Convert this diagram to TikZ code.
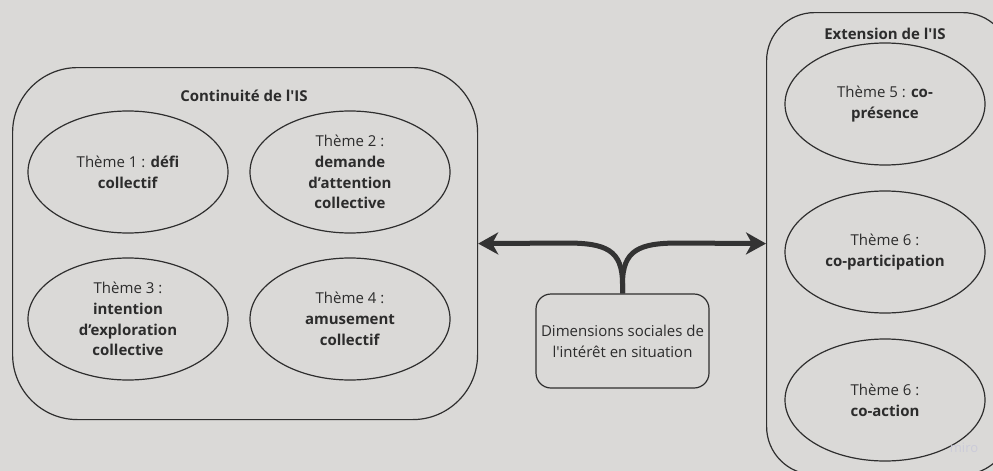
\documentclass[tikz,border=0pt]{standalone}
\usepackage{fontspec}
\newfontfamily\osans{Open Sans}
\usetikzlibrary{arrows.meta,shapes.geometric}
\definecolor{bgc}{HTML}{DAD9D7}
\definecolor{linec}{HTML}{2E2E2E}
\definecolor{txtc}{HTML}{2C2C2C}
\definecolor{arrc}{HTML}{333333}
\definecolor{wmc}{HTML}{CBCBD9}
\tikzset{
  every node/.style={font=\osans\fontsize{15}{20.8}\selectfont, text=txtc},
  bigbox/.style={draw=linec, line width=1.2pt, inner sep=0pt},
  theme/.style={ellipse, draw=linec, line width=1.2pt, minimum width=200pt, minimum height=122pt, inner sep=0pt, align=center},
  dimbox/.style={draw=linec, line width=1.2pt, rounded corners=15pt, minimum width=173pt, minimum height=94pt, align=center, inner sep=0pt},
  titletxt/.style={font=\osans\bfseries\fontsize{15}{20.8}\selectfont},
  arr/.style={draw=arrc, line width=5pt, -{Stealth[length=20pt, width=22pt, inset=6pt]}}
}
\begin{document}
\begin{tikzpicture}[x=1pt, y=-1pt]
\useasboundingbox (0,0) rectangle (993,471);
\clip (0,0) rectangle (993,471);
\fill[bgc] (0,0) rectangle (993,471);
% left big box
\node[bigbox, rounded corners=65pt, minimum width=465pt, minimum height=352pt, anchor=north west] (lbox) at (12,67) {};
\node[titletxt] (ltitle) at (244,96) {Continuité de l'IS};
\node[theme] (t1) at (128,172) {Thème 1 : \textbf{défi}\\\textbf{collectif}};
\node[theme] (t2) at (350,172) {Thème 2 :\\\textbf{demande}\\\textbf{d’attention}\\\textbf{collective}};
\node[theme] (t3) at (128,319) {Thème 3 :\\\textbf{intention}\\\textbf{d’exploration}\\\textbf{collective}};
\node[theme] (t4) at (350,319) {Thème 4 :\\\textbf{amusement}\\\textbf{collectif}};
% right big box
\node[bigbox, rounded corners=48pt, minimum width=244pt, minimum height=462pt, anchor=north west] (rbox) at (766,12) {};
\node[titletxt] (rtitle) at (885,34) {Extension de l'IS};
\node[theme] (t5) at (885,104) {Thème 5 : \textbf{co-}\\\textbf{présence}};
\node[theme] (t6) at (885,252) {Thème 6 :\\\textbf{co-participation}};
\node[theme] (t7) at (885,400) {Thème 6 :\\\textbf{co-action}};
% centre box
\node[dimbox] (dim) at (622.5,341) {Dimensions sociales de\\l'intérêt en situation};
% arrows
\draw[arr] (dim.north) -- (622.5,284) .. controls (622.5,250) and (606,243) .. (566,243) -- (lbox.east);
\draw[arr] (dim.north) -- (622.5,284) .. controls (622.5,250) and (639,243) .. (679,243) -- (rbox.west);
% watermark
\node[font=\osans\fontsize{13}{14}\selectfont, text=wmc] (wm) at (964,448) {miro};
\end{tikzpicture}
\end{document}
